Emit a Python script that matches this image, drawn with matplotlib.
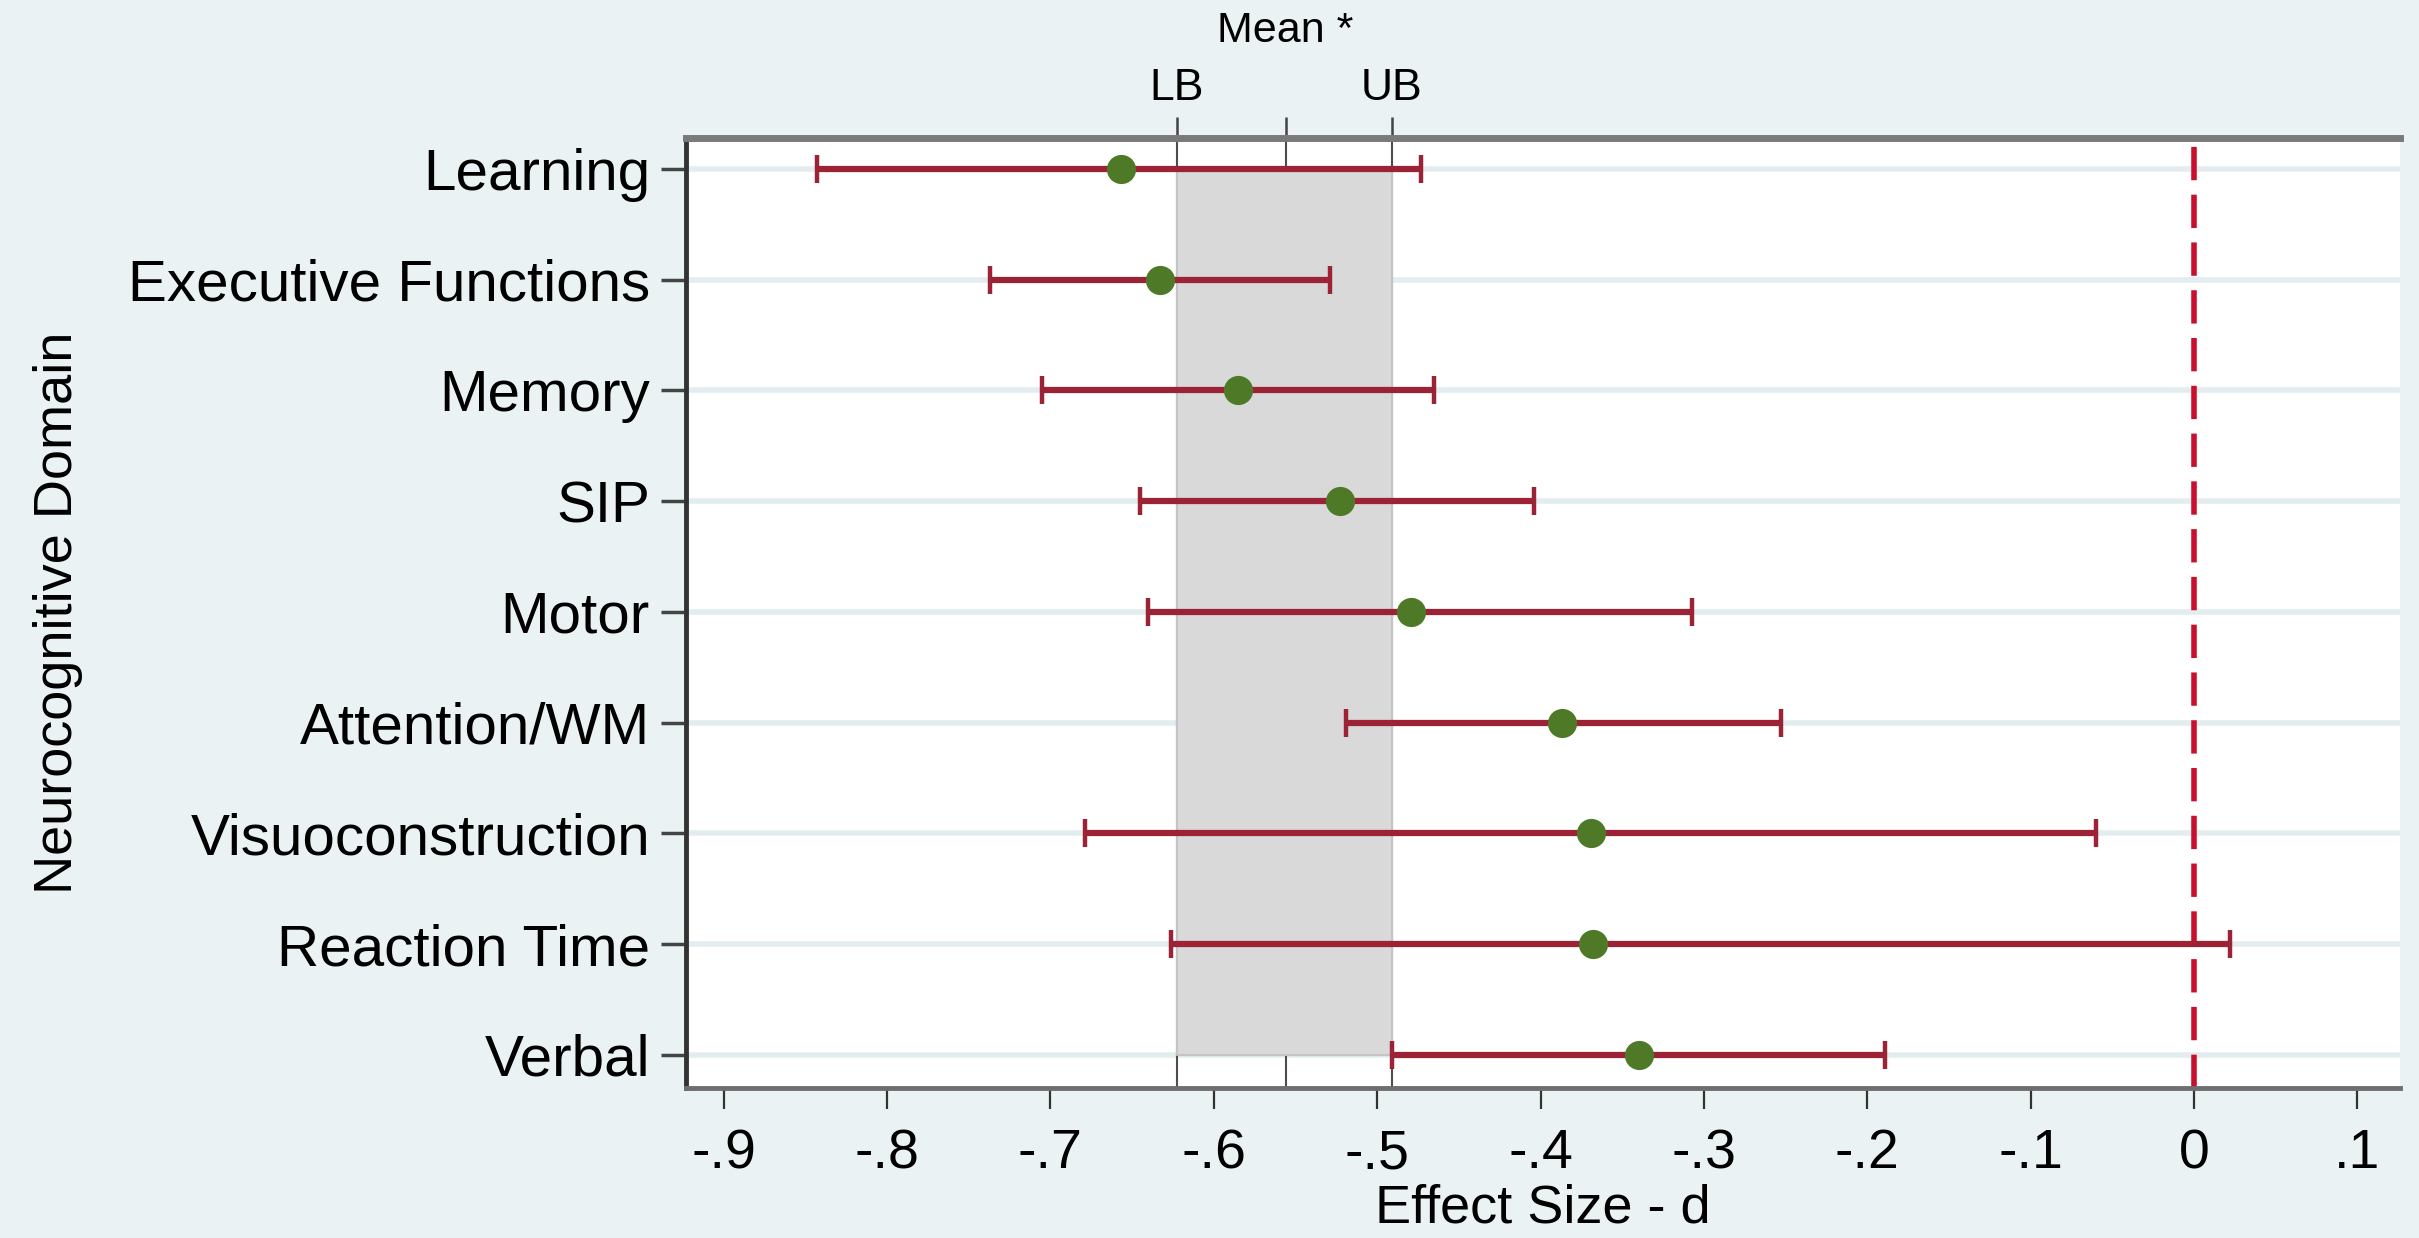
import matplotlib
matplotlib.use("Agg")
import matplotlib.pyplot as plt
from matplotlib.transforms import blended_transform_factory
import numpy as np

plt.rcParams['font.family'] = ['Liberation Sans', 'DejaVu Sans']

domains = ["Learning", "Executive Functions", "Memory", "SIP", "Motor",
           "Attention/WM", "Visuoconstruction", "Reaction Time", "Verbal"]
effect = [-0.657, -0.633, -0.585, -0.523, -0.479, -0.387, -0.369, -0.368, -0.340]
ci_low = [-0.843, -0.737, -0.705, -0.645, -0.640, -0.519, -0.679, -0.626, -0.491]
ci_high = [-0.473, -0.529, -0.465, -0.404, -0.307, -0.253, -0.060, 0.022, -0.189]

mean_lb = -0.6225
mean_est = -0.556
mean_ub = -0.491

xticks = [-0.9, -0.8, -0.7, -0.6, -0.5, -0.4, -0.3, -0.2, -0.1, 0.0, 0.1]
xticklabels = ["-.9", "-.8", "-.7", "-.6", "-.5", "-.4", "-.3", "-.2", "-.1", "0", ".1"]

bg = "#eaf2f3"
fig = plt.figure(figsize=(24.19, 12.38), dpi=100, facecolor=bg)
ax = fig.add_axes([0.2836, 0.1212, 0.9921 - 0.2836, 0.8885 - 0.1212])
ax.set_facecolor("white")

y = np.arange(len(domains))
ax.set_xlim(-0.923, 0.126)
ax.set_ylim(len(domains) - 1 + 0.30, -0.28)

# horizontal grid lines at categories
for yi in y:
    ax.axhline(yi, color="#e3ecef", lw=4, zorder=0.5)

# vertical reference lines for pooled mean and CI
for xv in (mean_lb, mean_est, mean_ub):
    ax.axvline(xv, color="#4d4d4d", lw=1.5, zorder=1)

# shaded band for pooled CI
ax.fill_betweenx([y[0], y[-1]], mean_lb, mean_ub, facecolor="#d9d9d9",
                 edgecolor="#c4c4c4", lw=1.5, zorder=2)

# zero line
ax.axvline(0, color="#c8102e", lw=4, linestyle=(0, (6, 2.6)), zorder=2.5)

eff = np.array(effect)
lo = np.array(ci_low)
hi = np.array(ci_high)
ax.errorbar(eff, y, xerr=[eff - lo, hi - eff], fmt='none', ecolor="#9b2335",
            elinewidth=4.5, capsize=10, capthick=3.2, zorder=3)
ax.plot(eff, y, 'o', color="#4e7a27", markersize=21, zorder=4, markeredgewidth=0)

# axes styling
ax.set_yticks(y)
ax.set_yticklabels(domains, fontsize=42)
ax.set_xticks(xticks)
ax.set_xticklabels(xticklabels, fontsize=40)
ax.tick_params(axis='y', length=18, width=2.5, color="#444444", pad=8)
ax.tick_params(axis='x', length=15, width=1.6, color="#333333", pad=14)
for side in ("right", "top"):
    ax.spines[side].set_visible(False)
ax.spines["left"].set_color("#333333")
ax.spines["left"].set_linewidth(3.5)
ax.spines["bottom"].set_color("#6e6e6e")
ax.spines["bottom"].set_linewidth(3.5)

ax.set_xlabel("Effect Size - d", fontsize=39, labelpad=2)
ax.set_ylabel("Neurocognitive Domain", fontsize=39, labelpad=32)

# top axis with pooled estimate ticks
ax2 = ax.twiny()
ax2.set_xlim(ax.get_xlim())
ax2.patch.set_visible(False)
for side in ("right", "left", "bottom"):
    ax2.spines[side].set_visible(False)
ax2.spines["top"].set_color("#7a7a7a")
ax2.spines["top"].set_linewidth(5)
ax2.set_xticks([mean_lb, mean_est, mean_ub])
ax2.set_xticklabels(["LB", "", "UB"], fontsize=32)
ax2.tick_params(axis='x', length=15, width=1.8, color="#444444", pad=6)
trans = blended_transform_factory(ax2.transData, fig.transFigure)
ax2.text(mean_est, 1 - 31 / 1238, "Mean *", transform=trans, ha="center",
         va="center", fontsize=31)

fig.savefig("out.png", dpi=100, facecolor=bg)
